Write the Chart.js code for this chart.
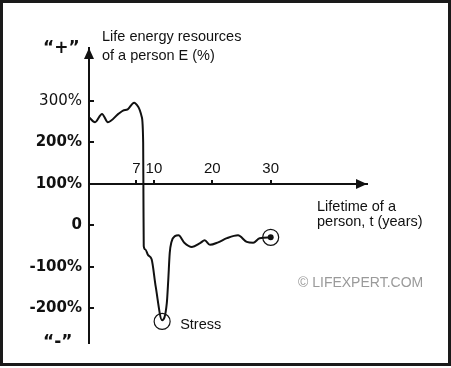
<!DOCTYPE html>
<html>
<head>
<meta charset="utf-8">
<script src="https://cdn.jsdelivr.net/npm/chart.js@4"></script>
<style>
  html, body { margin: 0; padding: 0; background: #fff; }
  #wrap { width: 451px; height: 368px; }
</style>
</head>
<body>
<div id="wrap"><canvas id="lifeChart" width="451" height="368"></canvas></div>
<script>
// curve: t in years, E in %
const age_years = [-1.13, -0.1, 1.1, 2.1, 3.9, 4.7, 5.5, 6.6, 7.3, 7.9, 8.15, 8.2, 8.25, 8.5, 9.0, 9.6, 10.3, 11.4, 12.2, 12.45, 12.7, 13.0, 13.6, 14.2, 15.2, 16.5, 17.9, 18.7, 19.6, 21.0, 22.5, 24.4, 25.9, 27.0, 28.1, 30];
const energy_pct = [261, 249, 269, 249, 269, 277, 280, 296, 286, 262, 200, 60, -50, -58, -72, -82, -148, -229, -188, -132, -67, -40, -26, -24, -42, -52, -43, -36, -47, -41, -31, -24, -40, -42, -31, -29];

const y_tick_values = [300, 200, 100, 0, -100, -200];
const x_tick_values = [7, 10, 20, 30];

const stress_point = {x: 11.4, y: -232};
const end_point = {x: 30, y: -29};

const ink = '#111';

// arrows, frame and free texts
const decorations = {
  id: 'decorations',
  afterDraw(chart) {
    const ctx = chart.ctx;
    const area = chart.chartArea;
    const xs = chart.scales.x, ys = chart.scales.y;
    const axisY = ys.getPixelForValue(100);
    ctx.save();
    ctx.fillStyle = ink;
    // y arrow
    ctx.beginPath();
    ctx.moveTo(area.left, area.top);
    ctx.lineTo(area.left - 5, area.top + 11);
    ctx.lineTo(area.left + 5, area.top + 11);
    ctx.closePath();
    ctx.fill();
    // x arrow
    ctx.beginPath();
    ctx.moveTo(area.right, axisY);
    ctx.lineTo(area.right - 11, axisY - 5);
    ctx.lineTo(area.right - 11, axisY + 5);
    ctx.closePath();
    ctx.fill();

    ctx.textBaseline = 'alphabetic';
    ctx.textAlign = 'left';
    ctx.font = '14.5px "Liberation Sans"';
    ctx.fillText('Life energy resources', 102, 41);
    ctx.fillText('of a person E (%)', 102, 60);
    ctx.fillText('Lifetime of a', 317, 211);
    ctx.fillText('person, t (years)', 317, 226);

    const sx = xs.getPixelForValue(stress_point.x), sy = ys.getPixelForValue(stress_point.y);
    ctx.fillText('Stress', sx + 18, sy + 8);

    ctx.font = 'bold 17px "DejaVu Sans"';
    ctx.fillText('\u201C+\u201D', 43, 53);
    ctx.fillText('\u201C-\u201D', 43, 347);

    ctx.fillStyle = '#9a9a9a';
    ctx.font = '14px "Liberation Sans"';
    ctx.fillText('\u00A9 LIFEXPERT.COM', 298, 287);

    // frame
    ctx.strokeStyle = '#1a1a1a';
    ctx.lineWidth = 3;
    ctx.strokeRect(1.5, 1.5, 448, 363);
    ctx.restore();
  }
};

new Chart(document.getElementById('lifeChart'), {
  type: 'line',
  data: {
    datasets: [{
      data: age_years.map((t, i) => ({x: t, y: energy_pct[i]})),
      borderColor: ink,
      borderWidth: 2,
      pointRadius: 0,
      cubicInterpolationMode: 'monotone',
      fill: false
    }, {
      data: [stress_point, end_point],
      showLine: false,
      pointRadius: 8,
      pointBorderWidth: 1.2,
      pointBorderColor: ink,
      pointBackgroundColor: 'rgba(0,0,0,0)'
    }, {
      data: [end_point],
      showLine: false,
      pointRadius: 3,
      pointBorderWidth: 0,
      pointBackgroundColor: ink
    }]
  },
  options: {
    responsive: false,
    devicePixelRatio: 1,
    animation: false,
    layout: { padding: { left: 0, top: 48, right: 84, bottom: 25 } },
    plugins: { legend: { display: false }, tooltip: { enabled: false } },
    scales: {
      x: {
        type: 'linear',
        min: -1.13,
        max: 46.5,
        position: { y: 100 },
        grid: { drawOnChartArea: false, tickLength: -5, color: ink, lineWidth: 2 },
        border: { color: ink, width: 2 },
        ticks: {
          padding: -19,
          color: ink,
          maxRotation: 0,
          autoSkip: false,
          font: { family: 'Liberation Sans', size: 15 },
          callback: v => String(v)
        },
        afterBuildTicks: s => { s.ticks = x_tick_values.map(v => ({value: v})); }
      },
      y: {
        type: 'linear',
        min: -284,
        max: 428,
        position: 'left',
        grid: { drawOnChartArea: false, tickLength: -5, color: ink, lineWidth: 2 },
        border: { color: ink, width: 2 },
        ticks: {
          padding: 12,
          color: ink,
          font: ctx => ({ family: 'DejaVu Sans', size: 15, weight: (ctx.tick && ctx.tick.value === 300) ? 'normal' : 'bold' }),
          callback: v => v === 0 ? '0' : v + '%'
        },
        afterBuildTicks: s => { s.ticks = y_tick_values.map(v => ({value: v})); },
        afterFit: s => { s.width = 89; }
      }
    }
  },
  plugins: [decorations]
});
</script>
</body>
</html>
